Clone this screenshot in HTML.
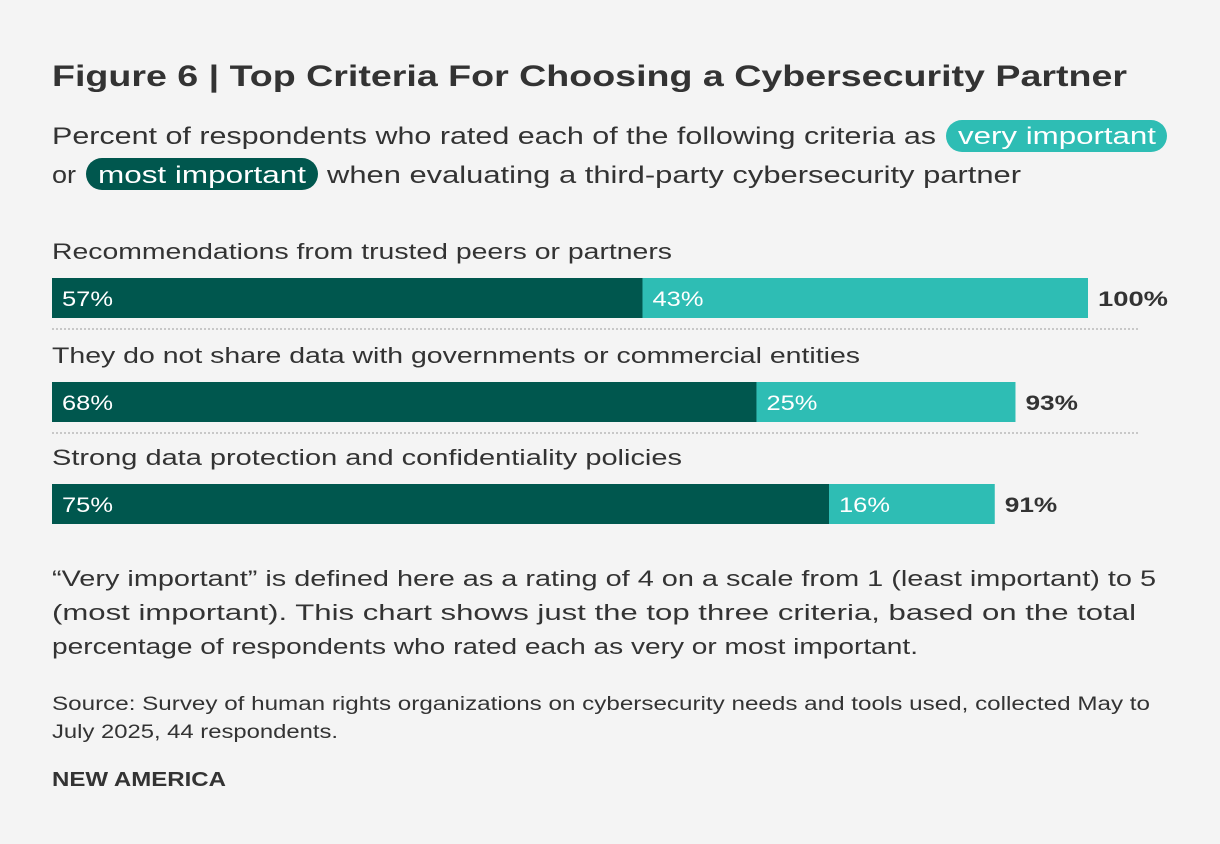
<!DOCTYPE html>
<html><head><meta charset="utf-8"><style>
body{margin:0;background:#f4f4f4;}
svg{display:block;font-family:"Liberation Sans",sans-serif;}
</style></head><body>
<svg width="1220" height="844" viewBox="0 0 1220 844">
<rect width="1220" height="844" fill="#f4f4f4"/>
<text x="52" y="86" font-size="30" font-weight="bold" fill="#333" textLength="1075" lengthAdjust="spacingAndGlyphs">Figure 6 | Top Criteria For Choosing a Cybersecurity Partner</text>
<g font-size="24" fill="#333">
<rect x="946" y="120" width="221" height="32" rx="16" fill="#2ebdb4"/>
<rect x="86" y="158" width="232" height="32" rx="16" fill="#00574e"/>
<text x="52" y="144" textLength="884" lengthAdjust="spacingAndGlyphs">Percent of respondents who rated each of the following criteria as</text>
<text x="958" y="144" fill="#fff" textLength="198" lengthAdjust="spacingAndGlyphs">very important</text>
<text x="52" y="183" textLength="24" lengthAdjust="spacingAndGlyphs">or</text>
<text x="98" y="183" fill="#fff" textLength="208" lengthAdjust="spacingAndGlyphs">most important</text>
<text x="327" y="183" textLength="694" lengthAdjust="spacingAndGlyphs">when evaluating a third-party cybersecurity partner</text>
</g>
<g id="bars"></g>
<g font-size="22" fill="#333">
<text x="52" y="586" textLength="1104" lengthAdjust="spacingAndGlyphs">“Very important” is defined here as a rating of 4 on a scale from 1 (least important) to 5</text>
<text x="52" y="620" textLength="1084" lengthAdjust="spacingAndGlyphs">(most important). This chart shows just the top three criteria, based on the total</text>
<text x="52" y="654" textLength="866" lengthAdjust="spacingAndGlyphs">percentage of respondents who rated each as very or most important.</text>
</g>
<g font-size="19" fill="#333">
<text x="52" y="710" textLength="1098" lengthAdjust="spacingAndGlyphs">Source: Survey of human rights organizations on cybersecurity needs and tools used, collected May to</text>
<text x="52" y="738" textLength="286" lengthAdjust="spacingAndGlyphs">July 2025, 44 respondents.</text>
</g>
<text x="52" y="786" font-size="20" font-weight="bold" fill="#333" textLength="174" lengthAdjust="spacingAndGlyphs">NEW AMERICA</text>
</svg>
<script>
const categories=["Recommendations from trusted peers or partners","They do not share data with governments or commercial entities","Strong data protection and confidentiality policies"];
const mostImportant=[57,68,75];
const veryImportant=[43,25,16];
const totals=[100,93,91];
const labelWidths=[620,808,630];
const rowTops=[278,382,484];
const NS="http://www.w3.org/2000/svg";
const g=document.getElementById('bars');
const x0=52,scale=10.36;
const xs=v=>x0+v*scale;
function mk(tag,attrs,txt){const e=document.createElementNS(NS,tag);for(const k in attrs)e.setAttribute(k,attrs[k]);if(txt!=null)e.textContent=txt;g.appendChild(e);return e;}
const tw=s=>s.length*17;
categories.forEach((c,i)=>{
 const top=rowTops[i];
 const lab=mk('text',{x:52,y:top-19,'font-size':22,fill:'#333',textLength:labelWidths[i],lengthAdjust:'spacingAndGlyphs'},c);
 
 
 const a=mk('rect',{x:xs(0),y:top,width:xs(mostImportant[i])-xs(0),height:40,fill:'#00574e'});
 
 
 const b=mk('rect',{x:xs(mostImportant[i]),y:top,width:xs(mostImportant[i]+veryImportant[i])-xs(mostImportant[i]),height:40,fill:'#2ebdb4'});
 
 
 const s1=mostImportant[i]+'%',s2=veryImportant[i]+'%',s3=totals[i]+'%';
 const t1=mk('text',{x:xs(0)+10,y:top+28,'font-size':21,fill:'#fff',textLength:tw(s1),lengthAdjust:'spacingAndGlyphs'},s1);
 
 
 const t2=mk('text',{x:xs(mostImportant[i])+10,y:top+28,'font-size':21,fill:'#fff',textLength:tw(s2),lengthAdjust:'spacingAndGlyphs'},s2);
 
 
 const t3=mk('text',{x:xs(mostImportant[i]+veryImportant[i])+10,y:top+28,'font-size':21,'font-weight':'bold',fill:'#333',textLength:s3.length*17.5,lengthAdjust:'spacingAndGlyphs'},s3);
 
 
 if(i<categories.length-1){
  const l=mk('line',{x1:52,x2:1140,y1:top+51,y2:top+51,stroke:'#c8c8c8','stroke-width':2,'stroke-dasharray':'2 2'});
  
  
 }
});
</script>
</body></html>
